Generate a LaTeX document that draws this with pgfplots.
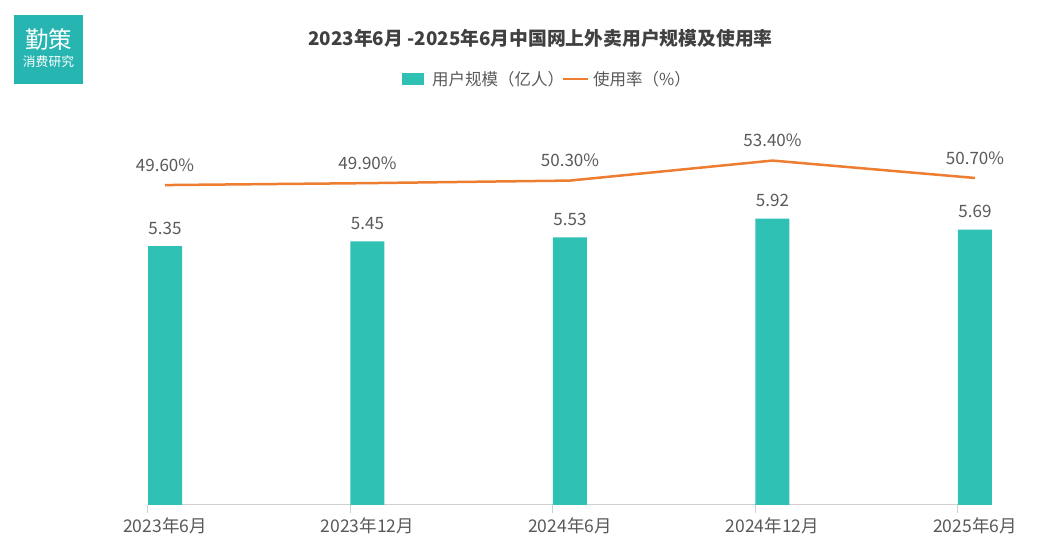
\documentclass[border=0pt]{standalone}
\usepackage{pgfplots}
\pgfplotsset{compat=1.18}
\usepackage{fontspec}
\setmainfont{Noto Sans CJK SC}
\definecolor{teal1}{HTML}{2EC1B4}
\definecolor{orange1}{HTML}{ED7D31}
\definecolor{txt}{HTML}{595959}
\definecolor{ttl}{HTML}{404040}
\definecolor{logo}{HTML}{26B5B0}
\definecolor{axisgray}{HTML}{CFCFCF}
\begin{document}
\begin{tikzpicture}
\useasboundingbox (0pt,0pt) rectangle (1058pt,559pt);
\begin{scope}[x=1pt,y=1pt]
% logo
\fill[logo] (14,475) rectangle (83,544);
\node[white,font=\fontsize{23.5}{26}\selectfont] at (48.5,519) {勤策};
\node[white,font=\fontsize{12.8}{14}\selectfont] at (48.5,497) {消费研究};
% title
\node[ttl,font=\fontsize{18.8}{22}\selectfont\bfseries] at (540.5,521) {2023年6月 -2025年6月中国网上外卖用户规模及使用率};
% legend
\fill[teal1] (402,474) rectangle (424,486);
\node[txt,anchor=west,font=\fontsize{16.5}{20}\selectfont,inner sep=0] at (432,480) {用户规模（亿人）};
\draw[orange1,line width=2.5pt] (563,480) -- (588,480);
\node[txt,anchor=west,font=\fontsize{16.5}{20}\selectfont,inner sep=0] at (593,480) {使用率（\%）};
\end{scope}
\begin{axis}[
  at={(165pt,54pt)}, anchor=origin,
  width=844pt, height=387pt, scale only axis,
  xmin=-0.084, xmax=4.084, ymin=0, ymax=8,
  hide y axis,
  axis x line*=bottom,
  x axis line style={draw=none},
  xtick={0,1,2,3,4},
  xticklabels={2023年6月,2023年12月,2024年6月,2024年12月,2025年6月},
  major tick length=0pt,
  xtick style={draw=none},
  xticklabel style={txt, font=\fontsize{17.5}{20}\selectfont, yshift=-9pt},
  clip=false,
]
\draw[axisgray, line width=1pt] (axis cs:-0.084,0) -- (axis cs:4.084,0);
\pgfplotsinvokeforeach{-0.084,0.916,1.916,2.916,3.916}{
  \draw[axisgray, line width=1pt] (axis cs:#1,0) -- ++(0pt,-8pt);
}
\addplot[ybar, bar width=34pt, fill=teal1, draw=none,
  nodes near coords, point meta=explicit symbolic,
  every node near coord/.append style={txt, font=\fontsize{17}{20}\selectfont, yshift=8pt}]
  coordinates {(0,5.35)[5.35] (1,5.45)[5.45] (2,5.53)[5.53] (3,5.92)[5.92] (4,5.69)[5.69]};
\end{axis}
\begin{axis}[
  at={(165pt,54pt)}, anchor=origin,
  width=844pt, height=387pt, scale only axis,
  xmin=-0.084, xmax=4.084, ymin=0, ymax=60,
  hide axis, clip=false,
]
\addplot[orange1, line width=2.5pt, mark=none,
  nodes near coords, point meta=explicit symbolic,
  every node near coord/.append style={txt, font=\fontsize{17}{20}\selectfont, yshift=9pt}]
  coordinates {(0,49.6)[49.60\%] (1,49.9)[49.90\%] (2,50.3)[50.30\%] (3,53.4)[53.40\%] (4,50.7)[50.70\%]};
\end{axis}
\end{tikzpicture}
\end{document}
